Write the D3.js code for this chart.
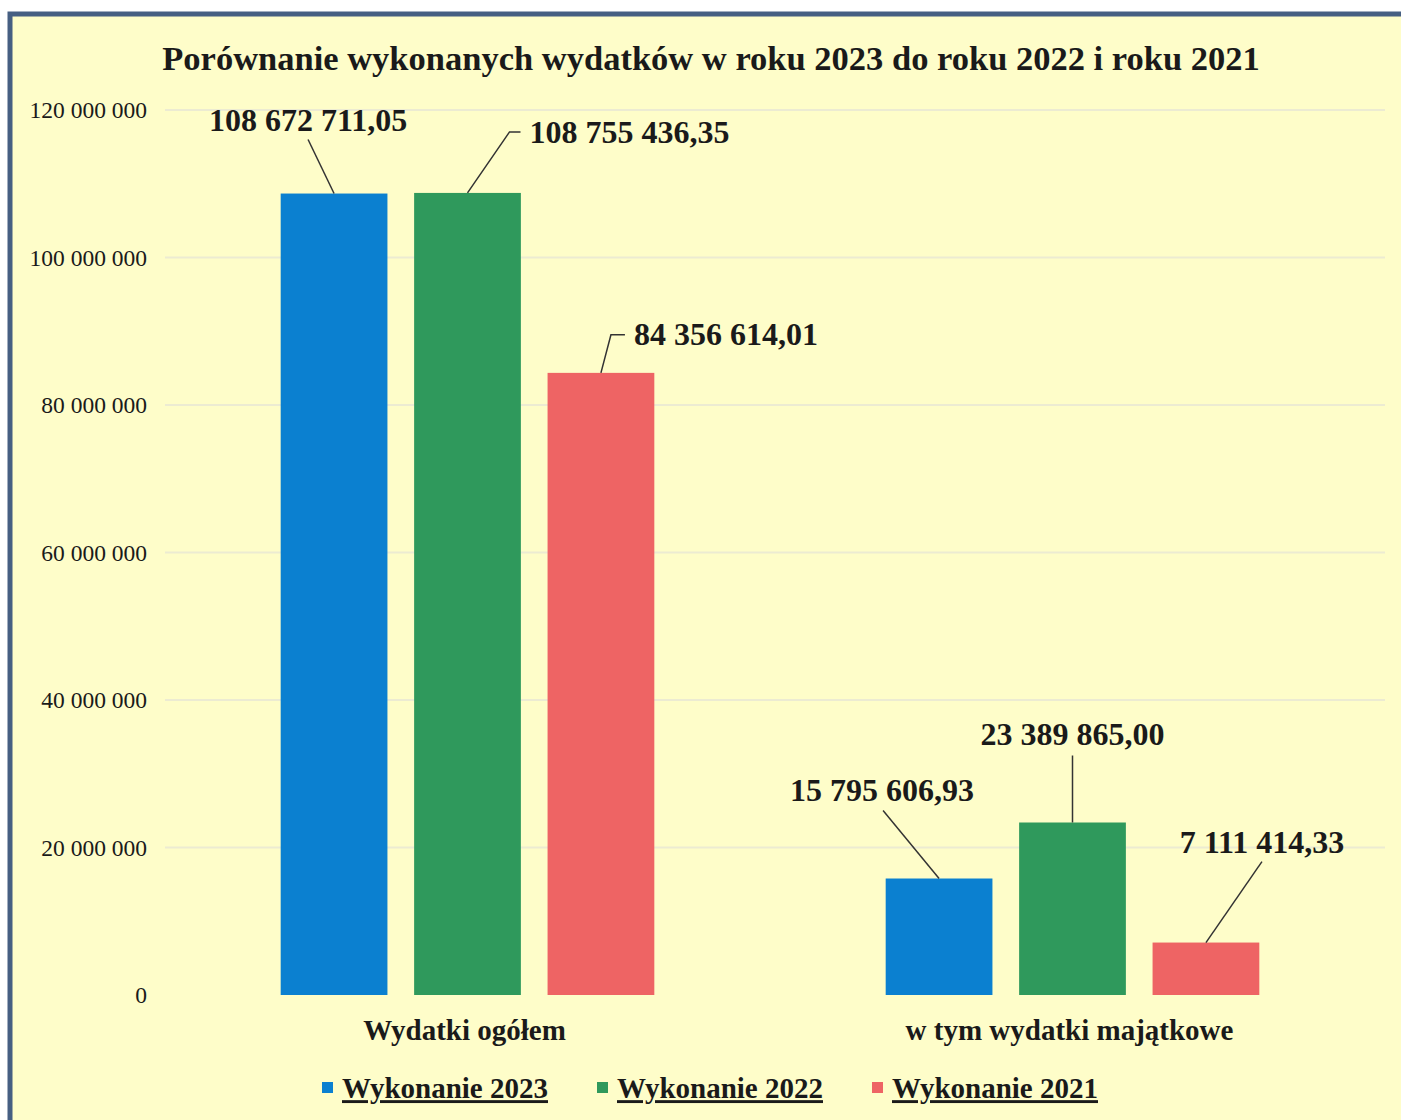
<!DOCTYPE html>
<html>
<head>
<meta charset="utf-8">
<script src="https://cdn.jsdelivr.net/npm/d3@7"></script>
<style>
  body { margin: 0; background: #fff; }
  svg text { font-family: "Liberation Serif", "Times New Roman", serif; fill: #1a1a1a; }
</style>
</head>
<body>
<svg width="1401" height="1120"></svg>
<script>
let categories = ['Wydatki ogółem', 'w tym wydatki majątkowe'];
let seriesNames = ['Wykonanie 2023', 'Wykonanie 2022', 'Wykonanie 2021'];
let values2023 = [108672711.05, 15795606.93];
let values2022 = [108755436.35, 23389865.00];
let values2021 = [84356614.01, 7111414.33];
let yTicks = [0, 20000000, 40000000, 60000000, 80000000, 100000000, 120000000];
let title = 'Porównanie wykonanych wydatków w roku 2023 do roku 2022 i roku 2021';

let colors = ['#0b80d0', '#2f995c', '#ee6464'];

// label placement relative to top-centre of each bar [series][category]
let labelLayout = [
  [{dx: -26, dy: -74, anchor: 'middle', line: [[0, 0], [-26, -54]]},
   {dx: -57, dy: -89, anchor: 'middle', line: [[0, 0], [-56, -68]]}],
  [{dx: 62, dy: -61, anchor: 'start', line: [[0, 0], [42, -61], [53, -61]]},
   {dx: 0, dy: -89, anchor: 'middle', line: [[0, 0], [0, -67]]}],
  [{dx: 33, dy: -39, anchor: 'start', line: [[0, 0], [10, -38], [24, -38]]},
   {dx: 56, dy: -101, anchor: 'middle', line: [[0, 0], [56, -81]]}]
];

let svg = d3.select('svg'),
    width = +svg.attr('width'),
    height = +svg.attr('height');

let pl = d3.formatLocale({decimal: ',', thousands: ' ', grouping: [3], currency: ['', '']});
let fmtVal = pl.format(',.2f'),
    fmtTick = pl.format(',d');

let series = [values2023, values2022, values2021];

// frame + background
svg.append('rect')
  .attr('x', 10).attr('y', 14)
  .attr('width', width + 20).attr('height', height + 20)
  .attr('fill', '#fefdc9')
  .attr('stroke', '#465f82').attr('stroke-width', 5);

let x0 = d3.scaleBand().domain(categories).range([165, 1375]);
let x1 = d3.scaleBand().domain(d3.range(seriesNames.length))
  .range([0, x0.bandwidth()]).paddingInner(0.2).paddingOuter(0.867);
let y = d3.scaleLinear().domain([0, 120000000]).range([995, 110]);

// gridlines
svg.append('g').selectAll('line').data(yTicks.slice(1)).enter().append('line')
  .attr('x1', 165).attr('x2', 1385)
  .attr('y1', d => y(d)).attr('y2', d => y(d))
  .attr('stroke', '#ecebd2').attr('stroke-width', 2);

// y axis (no domain line)
let yAxis = svg.append('g')
  .attr('transform', 'translate(147,0)')
  .call(d3.axisLeft(y).tickValues(yTicks).tickFormat(fmtTick).tickSize(0).tickPadding(0));
yAxis.select('.domain').remove();
yAxis.selectAll('text')
  .style('font-family', '"Liberation Serif", serif')
  .style('font-size', '23.5px')
  .attr('fill', '#1a1a1a');

// bars
let groups = svg.append('g').selectAll('g').data(series).enter().append('g')
  .attr('fill', (d, i) => colors[i]);

groups.each(function(vals, si) {
  d3.select(this).selectAll('rect').data(vals).enter().append('rect')
    .attr('x', (d, ci) => x0(categories[ci]) + x1(si))
    .attr('y', d => y(d))
    .attr('width', x1.bandwidth())
    .attr('height', d => y(0) - y(d));
});

// data labels with leader lines
series.forEach(function(vals, si) {
  vals.forEach(function(v, ci) {
    let cx = x0(categories[ci]) + x1(si) + x1.bandwidth() / 2,
        cy = y(v),
        lay = labelLayout[si][ci];
    svg.append('path')
      .attr('d', d3.line()(lay.line.map(p => [cx + p[0], cy + p[1]])))
      .attr('fill', 'none')
      .attr('stroke', '#333')
      .attr('stroke-width', 1.5);
    svg.append('text')
      .attr('x', cx + lay.dx).attr('y', cy + lay.dy)
      .attr('dy', '0.35em')
      .attr('text-anchor', lay.anchor)
      .style('font-size', '32px').style('font-weight', 'bold')
      .text(fmtVal(v));
  });
});

// category labels
svg.append('g').selectAll('text').data(categories).enter().append('text')
  .attr('x', d => x0(d) + x0.bandwidth() / 2 - 3)
  .attr('y', 1030).attr('dy', '0.35em')
  .attr('text-anchor', 'middle')
  .style('font-size', '29px').style('font-weight', 'bold')
  .text(d => d);

// title
svg.append('text')
  .attr('x', 711).attr('y', 58).attr('dy', '0.35em')
  .attr('text-anchor', 'middle')
  .style('font-size', '34.5px').style('font-weight', 'bold')
  .text(title);

// legend
let legend = svg.append('g').selectAll('g').data(seriesNames).enter().append('g')
  .attr('transform', (d, i) => 'translate(' + (322 + i * 275) + ',1088)');
legend.append('rect')
  .attr('x', 0).attr('y', -6).attr('width', 11).attr('height', 11)
  .attr('fill', (d, i) => colors[i]);
legend.append('text')
  .attr('x', 20).attr('dy', '0.35em')
  .style('font-size', '29px').style('font-weight', 'bold')
  .style('text-decoration', 'underline')
  .text(d => d);
</script>
</body>
</html>
